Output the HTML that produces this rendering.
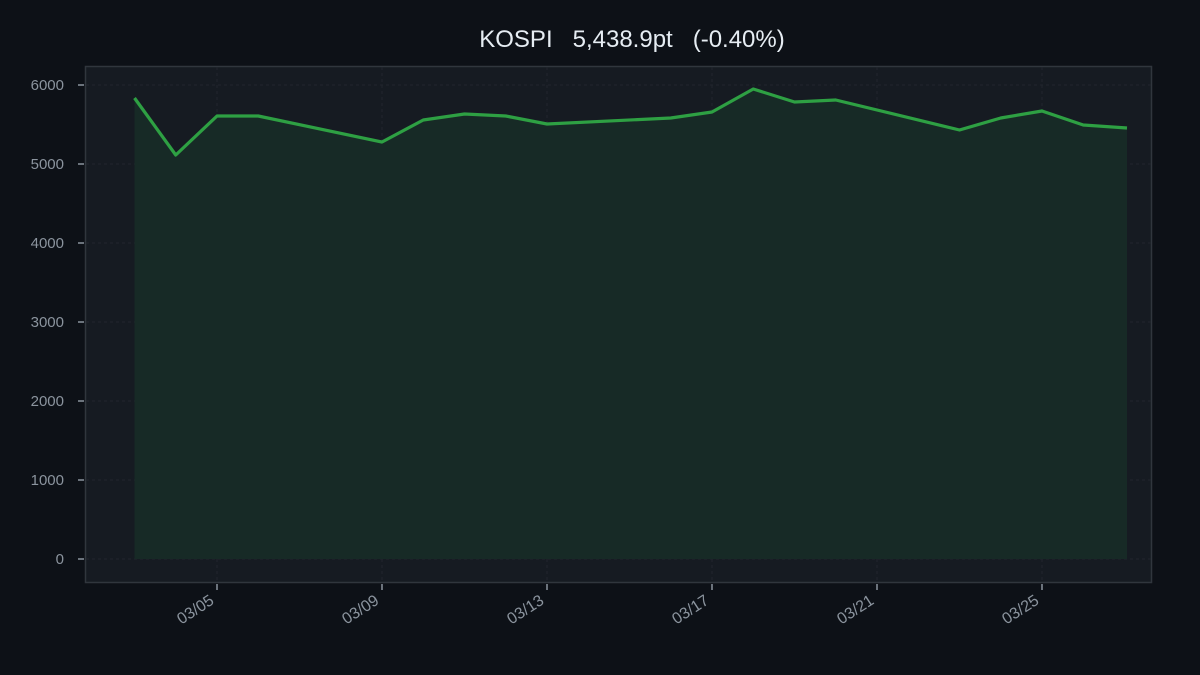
<!DOCTYPE html>
<html><head><meta charset="utf-8"><style>
html,body{margin:0;padding:0;background:#0d1117;}
svg{display:block;font-family:"Liberation Sans","DejaVu Sans",sans-serif;}
</style></head><body>
<svg width="1200" height="675" viewBox="0 0 1200 675">
<rect width="1200" height="675" fill="#0d1117"/>
<text x="632" y="47" fill="#e6edf3" font-size="24" text-anchor="middle" style="white-space:pre" xml:space="preserve">KOSPI   5,438.9pt   (-0.40%)</text>
<rect x="85.5" y="66.5" width="1066" height="516" fill="#161b22" stroke="#30363d" stroke-width="1.5"/>
<g stroke="#21262d" stroke-width="1" stroke-dasharray="3,3">
<line x1="86" x2="1151" y1="559" y2="559"/><line x1="86" x2="1151" y1="480" y2="480"/>
<line x1="86" x2="1151" y1="401" y2="401"/><line x1="86" x2="1151" y1="322" y2="322"/>
<line x1="86" x2="1151" y1="243" y2="243"/><line x1="86" x2="1151" y1="164" y2="164"/>
<line x1="86" x2="1151" y1="85" y2="85"/>
<line y1="67" y2="582" x1="217" x2="217"/><line y1="67" y2="582" x1="382" x2="382"/>
<line y1="67" y2="582" x1="547" x2="547"/><line y1="67" y2="582" x1="712" x2="712"/>
<line y1="67" y2="582" x1="877" x2="877"/><line y1="67" y2="582" x1="1042" x2="1042"/>
</g>
<polygon fill="#172a26" points="134.5,559 134.5,98 175.75,155 217,116 258.25,116 382,142 423.25,120 464.5,114 505.75,116 547,124 670.75,118 712,112 753.25,89 794.5,102 835.75,100 959.5,130 1000.75,118 1042,111 1083.25,125 1127,128 1127,559"/>
<polyline fill="none" stroke="#2ea043" stroke-width="3.2" stroke-linejoin="round" points="134.5,98 175.75,155 217,116 258.25,116 382,142 423.25,120 464.5,114 505.75,116 547,124 670.75,118 712,112 753.25,89 794.5,102 835.75,100 959.5,130 1000.75,118 1042,111 1083.25,125 1127,128"/>
<g fill="#8b949e" font-size="15" text-anchor="end">
<text x="64" y="564">0</text><text x="64" y="485">1000</text><text x="64" y="406">2000</text>
<text x="64" y="327">3000</text><text x="64" y="248">4000</text><text x="64" y="169">5000</text><text x="64" y="90">6000</text>
</g>
<g stroke="#8b949e" stroke-width="1.5">
<line x1="78" x2="84" y1="559" y2="559"/><line x1="78" x2="84" y1="480" y2="480"/><line x1="78" x2="84" y1="401" y2="401"/>
<line x1="78" x2="84" y1="322" y2="322"/><line x1="78" x2="84" y1="243" y2="243"/><line x1="78" x2="84" y1="164" y2="164"/><line x1="78" x2="84" y1="85" y2="85"/>
<line y1="584" y2="590" x1="217" x2="217"/><line y1="584" y2="590" x1="382" x2="382"/><line y1="584" y2="590" x1="547" x2="547"/>
<line y1="584" y2="590" x1="712" x2="712"/><line y1="584" y2="590" x1="877" x2="877"/><line y1="584" y2="590" x1="1042" x2="1042"/>
</g>
<g fill="#8b949e" font-size="16" text-anchor="end">
<text transform="translate(215,603) rotate(-33)">03/05</text>
<text transform="translate(380,603) rotate(-33)">03/09</text>
<text transform="translate(545,603) rotate(-33)">03/13</text>
<text transform="translate(710,603) rotate(-33)">03/17</text>
<text transform="translate(875,603) rotate(-33)">03/21</text>
<text transform="translate(1040,603) rotate(-33)">03/25</text>
</g>
</svg>
</body></html>
